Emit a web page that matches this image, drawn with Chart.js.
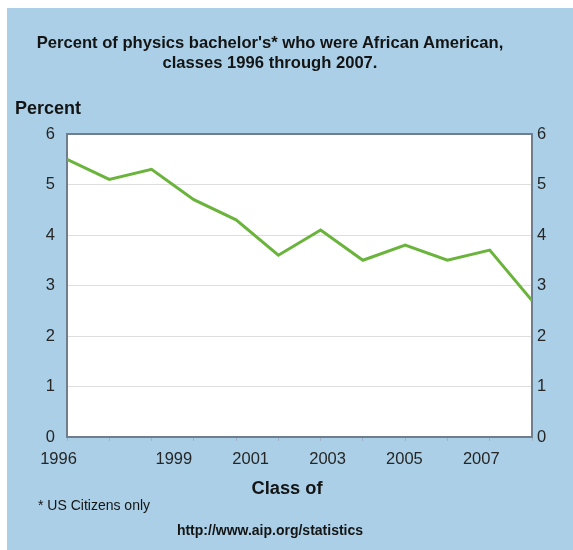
<!DOCTYPE html>
<html>
<head>
<meta charset="utf-8">
<script src="https://cdn.jsdelivr.net/npm/chart.js@4.4.1/dist/chart.umd.min.js"></script>
<style>
  html, body { margin: 0; padding: 0; background: #ffffff; }
  body { width: 573px; height: 550px; position: relative; overflow: hidden; font-family: "Liberation Sans", Arial, sans-serif; }
  #panel { position: absolute; left: 7px; top: 8px; right: 0; bottom: 0; background: #aacfe6; }
  #wrap { position: absolute; left: 0; top: 0; width: 573px; height: 550px; }
  .txt { position: absolute; color: #141414; white-space: nowrap; }
  #title { left: 0; width: 540px; top: 33px; text-align: center; font-weight: bold; font-size: 16.6px; line-height: 20px; }
  #ylab { left: 15px; top: 97px; font-weight: bold; font-size: 18px; line-height: 22px; }
  #xlab { left: 187px; width: 200px; top: 477px; text-align: center; font-weight: bold; font-size: 18.3px; line-height: 22px; }
  #note { left: 38px; top: 497px; font-size: 14px; line-height: 16px; }
  #src { left: 120px; width: 300px; top: 522px; text-align: center; font-weight: bold; font-size: 14px; line-height: 16px; }
</style>
</head>
<body>
<div id="panel"></div>
<div id="wrap"><canvas id="c" width="573" height="550"></canvas></div>
<div class="txt" id="title">Percent of physics bachelor's* who were African American,<br>classes 1996 through 2007.</div>
<div class="txt" id="ylab">Percent</div>
<div class="txt" id="xlab">Class of</div>
<div class="txt" id="note">* US Citizens only</div>
<div class="txt" id="src">http://www.aip.org/statistics</div>
<script>
// ---- data ----
const years = [1996, 1997, 1998, 1999, 2000, 2001, 2002, 2003, 2004, 2005, 2006, 2007];
const percentValues = [5.5, 5.1, 5.3, 4.7, 4.3, 3.6, 4.1, 3.5, 3.8, 3.5, 3.7, 2.7];
const xTickLabels = [1996, 1999, 2001, 2003, 2005, 2007];
const yTickValues = [0, 1, 2, 3, 4, 5, 6];

const points = years.map((y, i) => ({ x: y, y: percentValues[i] }));

const frameColor = '#6e7e8e';
const plotFrame = {
  id: 'plotFrame',
  beforeDraw(chart) {
    const a = chart.chartArea, ctx = chart.ctx;
    ctx.save();
    ctx.fillStyle = '#ffffff';
    ctx.fillRect(a.left, a.top, a.right - a.left, a.bottom - a.top);
    ctx.restore();
  },
  beforeDatasetsDraw(chart) {
    const a = chart.chartArea, ctx = chart.ctx;
    ctx.save();
    ctx.strokeStyle = frameColor;
    ctx.lineWidth = 2;
    ctx.strokeRect(a.left, a.top, a.right - a.left, a.bottom - a.top);
    ctx.restore();
  }
};

const tickFont = { family: '"Liberation Sans", Arial, sans-serif', size: 16.5 };
const tickColor = '#262626';

new Chart(document.getElementById('c'), {
  type: 'line',
  data: {
    datasets: [{
      data: points,
      borderColor: '#6ab43c',
      borderWidth: 3,
      pointRadius: 0,
      tension: 0,
      fill: false,
      xAxisID: 'x',
      yAxisID: 'y'
    }]
  },
  options: {
    responsive: false,
    animation: false,
    events: [],
    layout: { padding: { top: 134, left: 0, right: 0, bottom: 79 } },
    plugins: { legend: { display: false }, tooltip: { enabled: false }, title: { display: false } },
    scales: {
      x: {
        type: 'linear',
        position: 'bottom',
        min: years[0],
        max: years[years.length - 1],
        border: { display: false },
        grid: { color: 'rgba(0,0,0,0)', tickColor: '#9fb3c4', tickLength: 4, drawTicks: true, lineWidth: 1 },
        ticks: { display: false, stepSize: 1 },
        afterFit(s) { s.height = 4; }
      },
      xl: {
        type: 'linear',
        position: 'bottom',
        min: 1996.22,
        max: 2008.32,
        border: { display: false },
        grid: { display: false, drawTicks: false },
        ticks: { font: tickFont, color: tickColor, padding: 9, autoSkip: false, maxRotation: 0, callback: v => String(v) },
        afterBuildTicks(s) { s.ticks = xTickLabels.map(v => ({ value: v })); },
        afterFit(s) { s.height = 30; }
      },
      y: {
        type: 'linear',
        position: 'left',
        min: 0,
        max: 6,
        border: { display: false },
        grid: { color: '#dedede', lineWidth: 1, drawTicks: false },
        ticks: { stepSize: 1, font: tickFont, color: tickColor, padding: 12 },
        afterBuildTicks(s) { s.ticks = yTickValues.map(v => ({ value: v })); },
        afterFit(s) { s.width = 67; }
      },
      y2: {
        type: 'linear',
        position: 'right',
        min: 0,
        max: 6,
        border: { display: false },
        grid: { display: false, drawTicks: false },
        ticks: { stepSize: 1, font: tickFont, color: tickColor, padding: 5 },
        afterBuildTicks(s) { s.ticks = yTickValues.map(v => ({ value: v })); },
        afterFit(s) { s.width = 41; }
      }
    }
  },
  plugins: [plotFrame]
});
</script>
</body>
</html>
